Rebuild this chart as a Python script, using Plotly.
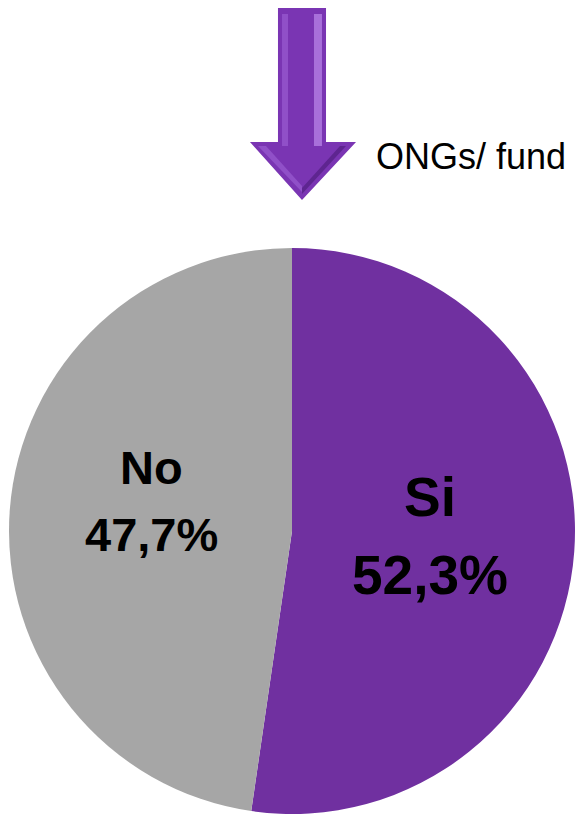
import plotly.graph_objects as go

labels = ["Si", "No"]
values = [52.3, 47.7]
colors = ["#7030A0", "#A6A6A6"]
arrow_label = "ONGs/ fund"

W, H = 576, 817


def px(x, y):
    # pixel position -> paper coords
    return x / W, 1 - y / H


def path(points):
    parts = []
    for i, (x, y) in enumerate(points):
        a, b = px(x, y)
        parts.append(("M" if i == 0 else "L") + f"{a:.4f},{b:.4f}")
    return " ".join(parts) + " Z"


fig = go.Figure(go.Pie(
    labels=labels, values=values, sort=False, direction="clockwise",
    rotation=0, marker=dict(colors=colors, line=dict(width=0)),
    textinfo="none", hoverinfo="label+percent", showlegend=False,
    domain=dict(x=[9 / W, 575 / W], y=[1 - 814 / H, 1 - 248 / H]),
))

# arrow drawn as shapes
arrow = [(278, 8), (326, 8), (326, 142), (356, 142), (302, 200), (250, 142), (278, 142)]
shapes = [
    dict(type="path", xref="paper", yref="paper", path=path(arrow),
         fillcolor="#7A35B3", line=dict(width=0)),
    # bevel highlights
    dict(type="path", xref="paper", yref="paper",
         path=path([(314, 14), (322, 14), (322, 146), (314, 146)]),
         fillcolor="#A870DA", line=dict(width=0)),
    dict(type="path", xref="paper", yref="paper",
         path=path([(282, 14), (288, 14), (288, 146), (282, 146)]),
         fillcolor="#9050C8", line=dict(width=0)),
    dict(type="path", xref="paper", yref="paper",
         path=path([(258, 146), (302, 192), (302, 186), (266, 146)]),
         fillcolor="#9050C8", line=dict(width=0)),
    dict(type="path", xref="paper", yref="paper",
         path=path([(302, 194), (346, 146), (340, 146), (302, 188)]),
         fillcolor="#5E2590", line=dict(width=0)),
]


def label(x, y, text, size):
    return dict(x=px(x, 0)[0], y=px(0, y)[1], xref="paper", yref="paper",
                xanchor="center", yanchor="middle", text=f"<b>{text}</b>",
                showarrow=False, font=dict(family="Liberation Sans", size=size, color="black"))


def pct(v):
    return f"{v:.1f}%".replace(".", ",")


annotations = [
    label(430, 497, labels[0], 55),
    label(430, 575, pct(values[0]), 55),
    label(151, 467, labels[1], 47),
    label(151, 534, pct(values[1]), 47),
    dict(x=px(374, 0)[0], y=px(0, 156)[1], xref="paper", yref="paper",
         xanchor="left", yanchor="middle", text=arrow_label, showarrow=False,
         font=dict(family="Liberation Sans", size=36, color="black")),
]

fig.update_layout(
    width=W, height=H, margin=dict(l=0, r=0, t=0, b=0),
    paper_bgcolor="white", plot_bgcolor="white",
    shapes=shapes, annotations=annotations,
)

fig.write_html("out.html", config={"displayModeBar": False},
               post_script="document.body.style.margin='0';document.body.style.overflow='hidden';")
